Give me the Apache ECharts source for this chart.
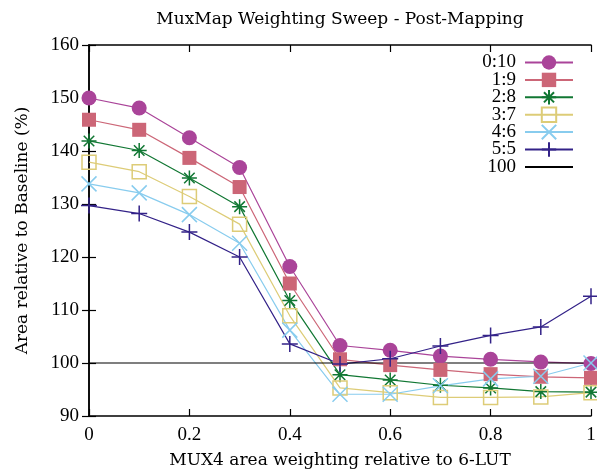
<!DOCTYPE html>
<html>
<head>
<meta charset="utf-8">
<script src="https://cdn.jsdelivr.net/npm/echarts@6/dist/echarts.min.js"></script>
<style>
html, body { margin: 0; padding: 0; background: #fff; overflow: hidden; }
#chart { width: 597px; height: 469px; }
</style>
</head>
<body>
<div id="chart"></div>
<script>
// weighting sweep data
var xVals = [0, 0.1, 0.2, 0.3, 0.4, 0.5, 0.6, 0.7, 0.8, 0.9, 1.0]
var s0_10 = [150, 148.1, 142.5, 136.9, 118.2, 103.3, 102.4, 101.3, 100.7, 100.2, 99.9]
var s1_9 = [145.9, 144.0, 138.7, 133.2, 115.0, 100.7, 99.6, 98.7, 97.9, 97.4, 97.2]
var s2_8 = [141.9, 140.1, 134.9, 129.5, 111.8, 97.8, 96.8, 95.8, 95.3, 94.6, 94.5]
var s3_7 = [137.9, 136.1, 131.4, 126.2, 108.9, 95.3, 94.4, 93.5, 93.5, 93.6, 94.4]
var s4_6 = [133.8, 132.1, 128.0, 122.6, 106.2, 94.1, 94.1, 95.7, 97.0, 97.5, 100.0]
var s5_5 = [129.7, 128.2, 124.7, 120.0, 103.6, 99.8, 100.8, 103.2, 105.2, 106.8, 112.6]
var baseline = 100
var yTicks = [90, 160, 10]

var FONT = 'Liberation Serif'   // digits / legend
var PROSE = 'DejaVu Serif'      // wider, closer to the CM look for long text
var PLUS = 'path://M5,0L5,10M0,5L10,5'
var CROSS = 'path://M0,0L10,10M10,0L0,10'
var STAR = 'path://M5,0L5,10M0,5L10,5M1.5,1.5L8.5,8.5M8.5,1.5L1.5,8.5'

function pairs(ys) {
    return xVals.map(function (x, i) { return [x, ys[i]] })
}

function mkSeries(name, ys, color, symbol, size, hollow) {
    var s = {
        name: name,
        type: 'line',
        data: pairs(ys),
        symbol: symbol,
        symbolSize: size,
        showAllSymbol: true,
        lineStyle: { color: color, width: 1.2 },
        itemStyle: { color: color }
    }
    if (symbol.indexOf('path://') === 0) {
        s.itemStyle = { color: color, borderColor: color, borderWidth: 1.5 }
    }
    if (hollow) {
        s.itemStyle = { color: 'rgba(0,0,0,0)', borderColor: color, borderWidth: 1.5 }
    }
    return s
}

var axisCommon = {
    type: 'value',
    axisLine: { show: true, lineStyle: { color: '#000', width: 1.5 } },
    axisTick: { show: true, inside: true, length: 7, lineStyle: { color: '#000', width: 1.2 } },
    splitLine: { show: false }
}

var option = {
    animation: false,
    backgroundColor: '#fff',
    title: {
        text: 'MuxMap Weighting Sweep - Post-Mapping',
        left: 335,
        top: 6,
        textAlign: 'center',
        textStyle: { fontFamily: PROSE, fontSize: 17, fontWeight: 'normal', color: '#000' }
    },
    // v6 would shrink the grid to keep the "1" label / axis name inside; keep it fixed
    grid: { left: 89, right: 6, top: 45, bottom: 53, outerBoundsMode: 'none' },
    legend: {
        orient: 'vertical',
        right: 18,
        top: 48,
        align: 'right',
        itemWidth: 48,
        itemHeight: 18,
        itemGap: -1.6,
        formatter: '{a|{name}}',
        textStyle: {
            fontFamily: FONT, fontSize: 19, color: '#000',
            rich: { a: { width: 40, align: 'right', padding: [0, 4, 0, 0], fontFamily: FONT, fontSize: 19, lineHeight: 16 } }
        },
        data: ['0:10', '1:9', '2:8', '3:7', '4:6', '5:5', '100']
    },
    xAxis: [Object.assign({}, axisCommon, {
        min: 0, max: 1, interval: 0.2,
        name: 'MUX4 area weighting relative to 6-LUT',
        nameLocation: 'middle',
        nameGap: 36,
        nameTextStyle: { fontFamily: PROSE, fontSize: 17, color: '#000' },
        axisLabel: { fontFamily: FONT, fontSize: 19, color: '#000', margin: 10 }
    }), Object.assign({}, axisCommon, {
        position: 'top',
        min: 0, max: 1, interval: 0.2,
        axisLabel: { show: false }
    })],
    yAxis: [Object.assign({}, axisCommon, {
        min: yTicks[0], max: yTicks[1], interval: yTicks[2],
        name: 'Area relative to Baseline (%)',
        nameLocation: 'middle',
        nameGap: 58,
        nameTextStyle: { fontFamily: PROSE, fontSize: 17, color: '#000' },
        axisLabel: { fontFamily: FONT, fontSize: 19, color: '#000', margin: 10 }
    }), Object.assign({}, axisCommon, {
        position: 'right',
        min: yTicks[0], max: yTicks[1], interval: yTicks[2],
        axisLabel: { show: false }
    })],
    series: [
        mkSeries('0:10', s0_10, '#aa4499', 'circle', 15),
        mkSeries('1:9', s1_9, '#cc6677', 'rect', 14),
        mkSeries('2:8', s2_8, '#117733', STAR, 15),
        mkSeries('3:7', s3_7, '#ddcc77', 'rect', 14, true),
        mkSeries('4:6', s4_6, '#88ccee', CROSS, 15),
        mkSeries('5:5', s5_5, '#332288', PLUS, 16),
        {
            name: '100',
            type: 'line',
            data: xVals.map(function (x) { return [x, baseline] }),
            symbol: 'none',
            lineStyle: { color: '#000', width: 1.2 },
            itemStyle: { color: 'rgba(0,0,0,0)' }
        }
    ]
}

var chart = echarts.init(document.getElementById('chart'))
chart.setOption(option)
</script>
</body>
</html>
